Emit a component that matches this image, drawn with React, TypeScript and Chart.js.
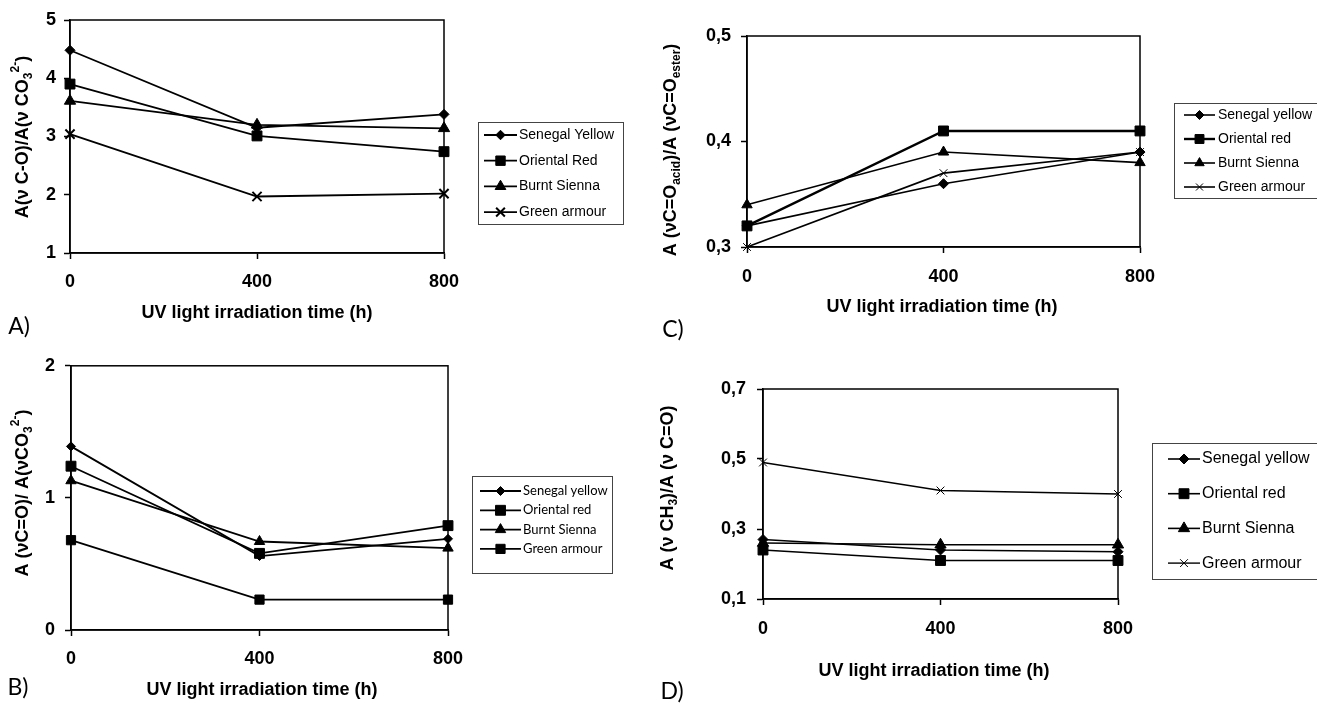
import React, { useEffect, useRef } from 'react';
import { Chart, registerables } from 'chart.js';

Chart.register(...registerables);

// ---------- DATA ----------
const times = [0, 400, 800];
const xTickValues = [0, 400, 800];

const namesA = ['Senegal Yellow', 'Oriental Red', 'Burnt Sienna', 'Green armour'];
const namesB = ['Senegal yellow', 'Oriental red', 'Burnt Sienna', 'Green armour'];
const namesC = ['Senegal yellow', 'Oriental red', 'Burnt Sienna', 'Green armour'];
const namesD = ['Senegal yellow', 'Oriental red', 'Burnt Sienna', 'Green armour'];

const aSenegal = [4.48, 3.15, 3.38];
const aOriental = [3.9, 3.01, 2.74];
const aBurnt = [3.61, 3.2, 3.14];
const aGreen = [3.04, 1.97, 2.02];

const bSenegal = [1.39, 0.56, 0.69];
const bOriental = [1.24, 0.58, 0.79];
const bBurnt = [1.13, 0.67, 0.62];
const bGreen = [0.68, 0.23, 0.23];

const cSenegal = [0.32, 0.36, 0.39];
const cOriental = [0.32, 0.41, 0.41];
const cBurnt = [0.34, 0.39, 0.38];
const cGreen = [0.3, 0.37, 0.39];

const dSenegal = [0.27, 0.24, 0.235];
const dOriental = [0.24, 0.21, 0.21];
const dBurnt = [0.26, 0.255, 0.255];
const dGreen = [0.49, 0.41, 0.4];

const yTicksA = [1, 2, 3, 4, 5];
const yTicksB = [0, 1, 2];
const yTicksC = [0.3, 0.4, 0.5];
const yTicksD = [0.1, 0.3, 0.5, 0.7];

const xTitleText = 'UV light irradiation time (h)';

type Seg = [string, 'n' | 'sub' | 'sup'];
const yTitleA: Seg[] = [['A(\u03BD C-O)/A(\u03BD CO', 'n'], ['3', 'sub'], ['2-', 'sup'], [')', 'n']];
const yTitleB: Seg[] = [['A (\u03BDC=O)/ A(\u03BDCO', 'n'], ['3', 'sub'], ['2-', 'sup'], [')', 'n']];
const yTitleC: Seg[] = [['A (\u03BDC=O', 'n'], ['acid', 'sub'], [')/A (\u03BDC=O', 'n'], ['ester', 'sub'], [')', 'n']];
const yTitleD: Seg[] = [['A (\u03BD CH', 'n'], ['3', 'sub'], [')/A (\u03BD C=O)', 'n']];

// ---------- STYLE / LAYOUT ----------
const FONT = "'Liberation Sans', Arial, sans-serif";
const W_Y = 60;
const H_X = 40;

type Marker = { style: string; r: number; bw: number; lw: number };

interface Spec {
  canvas: { x: number; y: number; w: number; h: number };
  plot: { l: number; t: number; r: number; b: number };
  yTicks: number[];
  yFmt: (v: number) => string;
  yPad: number;
  xPad: number;
  names: string[];
  values: number[][];
  markers: Marker[];
  yTitle: { segs: Seg[]; cx: number; cy: number };
  xTitle: { cx: number; cy: number };
  letter: { text: string; cx: number; cy: number };
  legend: { x: number; y: number; w: number; h: number; row0: number; gap: number; l1: number; l2: number; tx: number; font: string; ms: number };
}

const intFmt = (v: number) => String(Math.round(v));
const commaFmt = (v: number) => v.toFixed(1).replace('.', ',');

const specs: Spec[] = [
  {
    canvas: { x: 0, y: 0, w: 655, h: 345 },
    plot: { l: 70, t: 20, r: 444, b: 253 },
    yTicks: yTicksA, yFmt: intFmt, yPad: 8, xPad: 12,
    names: namesA,
    values: [aSenegal, aOriental, aBurnt, aGreen],
    markers: [
      { style: 'rectRot', r: 5, bw: 1, lw: 1.8 },
      { style: 'rect', r: 7, bw: 1, lw: 1.8 },
      { style: 'triangle', r: 6.5, bw: 1, lw: 1.8 },
      { style: 'crossRot', r: 6.5, bw: 2, lw: 1.8 },
    ],
    yTitle: { segs: yTitleA, cx: 23, cy: 137 },
    xTitle: { cx: 257, cy: 313 },
    letter: { text: 'A)', cx: 19, cy: 327 },
    legend: { x: 478, y: 122, w: 145, h: 102, row0: 13, gap: 25.7, l1: 484, l2: 517, tx: 519, font: `14px ${FONT}`, ms: 0.95 },
  },
  {
    canvas: { x: 0, y: 345, w: 655, h: 358 },
    plot: { l: 71, t: 365, r: 448, b: 630 },
    yTicks: yTicksB, yFmt: intFmt, yPad: 10, xPad: 12,
    names: namesB,
    values: [bSenegal, bOriental, bBurnt, bGreen],
    markers: [
      { style: 'rectRot', r: 4.5, bw: 1, lw: 1.8 },
      { style: 'rect', r: 7, bw: 1, lw: 1.8 },
      { style: 'triangle', r: 6, bw: 1, lw: 1.8 },
      { style: 'rect', r: 6.5, bw: 1, lw: 1.8 },
    ],
    yTitle: { segs: yTitleB, cx: 23, cy: 493 },
    xTitle: { cx: 262, cy: 690 },
    letter: { text: 'B)', cx: 18, cy: 688 },
    legend: { x: 472, y: 476, w: 140, h: 97, row0: 15, gap: 19.3, l1: 480, l2: 521, tx: 523, font: "13px Lato, 'Open Sans', sans-serif", ms: 1 },
  },
  {
    canvas: { x: 655, y: 0, w: 662, h: 345 },
    plot: { l: 747, t: 36, r: 1140, b: 247 },
    yTicks: yTicksC, yFmt: commaFmt, yPad: 10, xPad: 13,
    names: namesC,
    values: [cSenegal, cOriental, cBurnt, cGreen],
    markers: [
      { style: 'rectRot', r: 5, bw: 1, lw: 1.6 },
      { style: 'rect', r: 7, bw: 1, lw: 2.4 },
      { style: 'triangle', r: 6, bw: 1, lw: 1.6 },
      { style: 'crossRot', r: 5.5, bw: 1, lw: 1.6 },
    ],
    yTitle: { segs: yTitleC, cx: 671, cy: 150 },
    xTitle: { cx: 942, cy: 307 },
    letter: { text: 'C)', cx: 673, cy: 330 },
    legend: { x: 1174, y: 103, w: 150, h: 95, row0: 12, gap: 24, l1: 1184, l2: 1215, tx: 1218, font: `14px ${FONT}`, ms: 0.9 },
  },
  {
    canvas: { x: 655, y: 345, w: 662, h: 358 },
    plot: { l: 763, t: 389, r: 1118, b: 599 },
    yTicks: yTicksD, yFmt: commaFmt, yPad: 11, xPad: 13,
    names: namesD,
    values: [dSenegal, dOriental, dBurnt, dGreen],
    markers: [
      { style: 'rectRot', r: 5, bw: 1, lw: 1.6 },
      { style: 'rect', r: 7, bw: 1, lw: 1.6 },
      { style: 'triangle', r: 6.5, bw: 1, lw: 1.6 },
      { style: 'crossRot', r: 5.5, bw: 1, lw: 1.4 },
    ],
    yTitle: { segs: yTitleD, cx: 668, cy: 488 },
    xTitle: { cx: 934, cy: 671 },
    letter: { text: 'D)', cx: 672, cy: 692 },
    legend: { x: 1152, y: 443, w: 175, h: 136, row0: 16, gap: 34.7, l1: 1168, l2: 1200, tx: 1202, font: `16px ${FONT}`, ms: 1 },
  },
];

function drawMarker(ctx: CanvasRenderingContext2D, style: string, x: number, y: number, r: number, bw: number) {
  ctx.save();
  ctx.fillStyle = '#000';
  ctx.strokeStyle = '#000';
  ctx.lineWidth = bw;
  ctx.beginPath();
  if (style === 'rectRot') {
    ctx.moveTo(x, y - r); ctx.lineTo(x + r, y); ctx.lineTo(x, y + r); ctx.lineTo(x - r, y); ctx.closePath();
    ctx.fill(); ctx.stroke();
  } else if (style === 'rect') {
    const s = r * Math.SQRT1_2;
    ctx.rect(x - s, y - s, 2 * s, 2 * s);
    ctx.fill(); ctx.stroke();
  } else if (style === 'triangle') {
    let rad = 0;
    ctx.moveTo(x + Math.sin(rad) * r, y - Math.cos(rad) * r);
    rad += (2 * Math.PI) / 3;
    ctx.lineTo(x + Math.sin(rad) * r, y - Math.cos(rad) * r);
    rad += (2 * Math.PI) / 3;
    ctx.lineTo(x + Math.sin(rad) * r, y - Math.cos(rad) * r);
    ctx.closePath();
    ctx.fill(); ctx.stroke();
  } else if (style === 'crossRot') {
    const o = r * Math.SQRT1_2;
    ctx.moveTo(x - o, y - o); ctx.lineTo(x + o, y + o);
    ctx.moveTo(x + o, y - o); ctx.lineTo(x - o, y + o);
    ctx.stroke();
  }
  ctx.restore();
}

function drawRich(ctx: CanvasRenderingContext2D, segs: Seg[], cx: number, cy: number, size: number) {
  ctx.save();
  ctx.translate(cx, cy);
  ctx.rotate(-Math.PI / 2);
  ctx.fillStyle = '#000';
  ctx.textBaseline = 'middle';
  ctx.textAlign = 'left';
  const small = Math.round(size * 0.68);
  const fontFor = (m: string) => `bold ${m === 'n' ? size : small}px ${FONT}`;
  let total = 0;
  for (const [t, m] of segs) { ctx.font = fontFor(m); total += ctx.measureText(t).width; }
  let x = -total / 2;
  for (const [t, m] of segs) {
    ctx.font = fontFor(m);
    const dy = m === 'sub' ? size * 0.32 : m === 'sup' ? -size * 0.38 : 0;
    ctx.fillText(t, x, dy);
    x += ctx.measureText(t).width;
  }
  ctx.restore();
}

function Panel({ spec }: { spec: Spec }) {
  const ref = useRef<HTMLCanvasElement | null>(null);
  useEffect(() => {
    const canvas = ref.current;
    if (!canvas) return;
    const ox = spec.canvas.x;
    const oy = spec.canvas.y;
    const padding = {
      left: spec.plot.l - ox - W_Y,
      top: spec.plot.t - oy,
      right: ox + spec.canvas.w - spec.plot.r,
      bottom: oy + spec.canvas.h - spec.plot.b - H_X,
    };
    const datasets = spec.values.map((vals, i) => {
      const m = spec.markers[i];
      return {
        label: spec.names[i],
        data: times.map((t, j) => ({ x: t, y: vals[j] })),
        borderColor: '#000',
        backgroundColor: '#000',
        borderWidth: m.lw,
        pointStyle: m.style as any,
        pointRadius: m.r,
        pointBorderWidth: m.bw,
        pointBorderColor: '#000',
        pointBackgroundColor: '#000',
        tension: 0,
        clip: false as any,
      };
    });
    const tickFont = { family: FONT, size: 18, weight: 'bold' as const };
    const decoPlugin = {
      id: 'deco',
      beforeDatasetsDraw(chart: any) {
        const { ctx, chartArea: a } = chart;
        ctx.save();
        ctx.strokeStyle = '#000';
        ctx.lineWidth = 1.5;
        ctx.strokeRect(a.left, a.top, a.right - a.left, a.bottom - a.top);
        ctx.restore();
      },
      afterDraw(chart: any) {
        const ctx: CanvasRenderingContext2D = chart.ctx;
        ctx.save();
        ctx.fillStyle = '#000';
        ctx.font = `bold 18px ${FONT}`;
        ctx.textAlign = 'center';
        ctx.textBaseline = 'middle';
        ctx.fillText(xTitleText, spec.xTitle.cx - ox, spec.xTitle.cy - oy);
        ctx.font = "23px Lato, 'Open Sans', sans-serif";
        ctx.fillText(spec.letter.text, spec.letter.cx - ox, spec.letter.cy - oy);
        ctx.restore();
        drawRich(ctx, spec.yTitle.segs, spec.yTitle.cx - ox, spec.yTitle.cy - oy, 18);
        const lg = spec.legend;
        ctx.save();
        ctx.strokeStyle = '#444';
        ctx.lineWidth = 1;
        ctx.strokeRect(Math.round(lg.x - ox) + 0.5, Math.round(lg.y - oy) + 0.5, lg.w, lg.h);
        spec.names.forEach((name, i) => {
          const m = spec.markers[i];
          const y = lg.y - oy + lg.row0 + i * lg.gap;
          ctx.beginPath();
          ctx.moveTo(lg.l1 - ox, y);
          ctx.lineTo(lg.l2 - ox, y);
          ctx.lineWidth = m.lw;
          ctx.strokeStyle = '#000';
          ctx.stroke();
          drawMarker(ctx, m.style, (lg.l1 + lg.l2) / 2 - ox, y, m.r * lg.ms, m.bw);
          ctx.fillStyle = '#000';
          ctx.font = lg.font;
          ctx.textAlign = 'left';
          ctx.textBaseline = 'middle';
          ctx.fillText(name, lg.tx - ox, y);
        });
        ctx.restore();
      },
    };
    const chart = new Chart(canvas, {
      type: 'line',
      data: { datasets },
      options: {
        responsive: false,
        animation: false,
        devicePixelRatio: 1,
        layout: { padding },
        plugins: { legend: { display: false }, tooltip: { enabled: false }, title: { display: false } },
        scales: {
          x: {
            type: 'linear',
            min: xTickValues[0],
            max: xTickValues[xTickValues.length - 1],
            afterBuildTicks: (s: any) => { s.ticks = xTickValues.map((v) => ({ value: v })); },
            afterFit: (s: any) => { s.height = H_X; },
            ticks: { color: '#000', font: tickFont, padding: spec.xPad, maxRotation: 0, callback: (v: any) => String(v) },
            grid: { drawOnChartArea: false, drawTicks: true, tickLength: 6, tickColor: '#000', tickWidth: 1.5 },
            border: { display: true, color: '#000', width: 1.5 },
          },
          y: {
            type: 'linear',
            min: spec.yTicks[0],
            max: spec.yTicks[spec.yTicks.length - 1],
            afterBuildTicks: (s: any) => { s.ticks = spec.yTicks.map((v) => ({ value: v })); },
            afterFit: (s: any) => { s.width = W_Y; },
            ticks: { color: '#000', font: tickFont, padding: spec.yPad, callback: (v: any) => spec.yFmt(Number(v)) },
            grid: { drawOnChartArea: false, drawTicks: true, tickLength: 6, tickColor: '#000', tickWidth: 1.5 },
            border: { display: true, color: '#000', width: 1.5 },
          },
        },
      } as any,
      plugins: [decoPlugin],
    });
    return () => chart.destroy();
  }, [spec]);
  return (
    <canvas
      ref={ref}
      width={spec.canvas.w}
      height={spec.canvas.h}
      style={{ position: 'absolute', left: spec.canvas.x, top: spec.canvas.y, width: spec.canvas.w, height: spec.canvas.h, display: 'block' }}
    />
  );
}

export default function App() {
  return (
    <div style={{ position: 'absolute', left: 0, top: 0, width: 1317, height: 703, background: '#fff', overflow: 'hidden' }}>
      {specs.map((s, i) => (
        <Panel key={i} spec={s} />
      ))}
    </div>
  );
}
